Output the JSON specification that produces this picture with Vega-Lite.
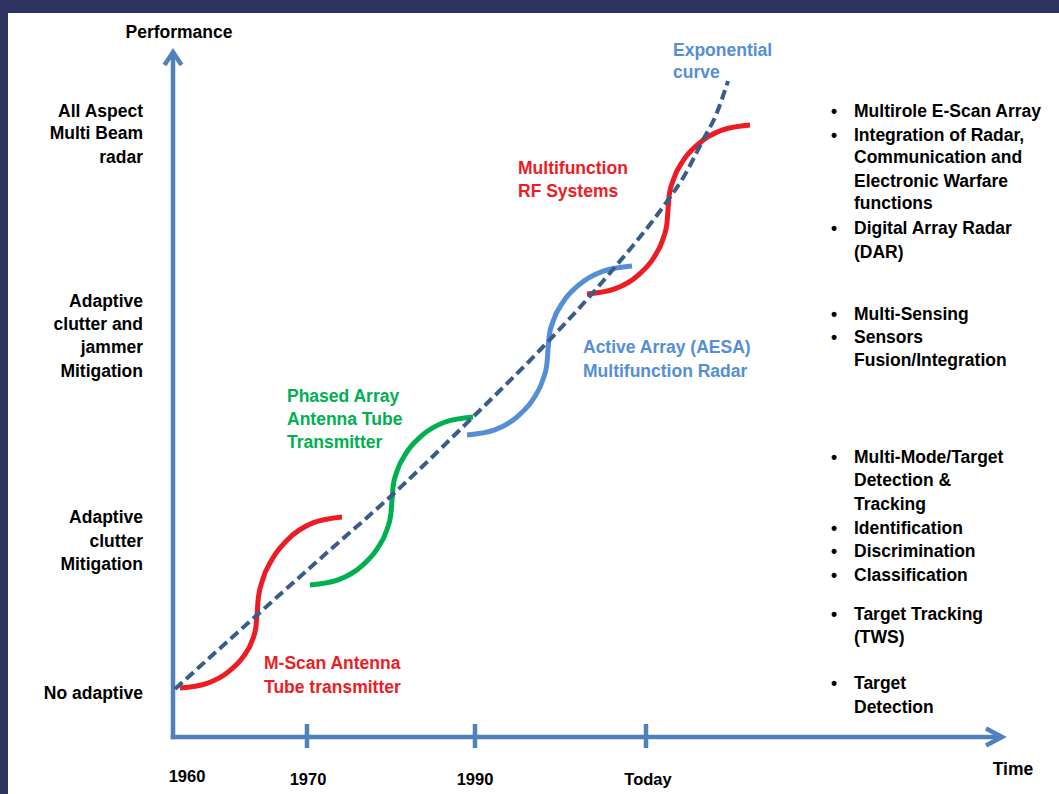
{
  "$schema": "https://vega.github.io/schema/vega-lite/v6.json",
  "width": 1059,
  "height": 794,
  "autosize": {"type": "fit", "contains": "padding"},
  "padding": {"left": 8, "top": 13, "right": 0, "bottom": 0},
  "background": "#2c3361",
  "config": {
    "view": {"fill": "#ffffff", "stroke": null},
    "text": {"font": "Liberation Sans", "fontWeight": "bold", "fontSize": 17.5}
  },
  "datasets": {
    "axes": [
      {"seg": "yaxis", "i": 0, "t": 0, "p": -2.25},
      {"seg": "yaxis", "i": 1, "t": 0, "p": 684},
      {"seg": "yarrow", "i": 0, "t": -8.5, "p": 672},
      {"seg": "yarrow", "i": 1, "t": 0, "p": 685},
      {"seg": "yarrow", "i": 2, "t": 8.5, "p": 672},
      {"seg": "xaxis", "i": 0, "t": -2.25, "p": 0},
      {"seg": "xaxis", "i": 1, "t": 828, "p": 0},
      {"seg": "xarrow", "i": 0, "t": 813, "p": 8.5},
      {"seg": "xarrow", "i": 1, "t": 829, "p": 0},
      {"seg": "xarrow", "i": 2, "t": 813, "p": -8.5},
      {"seg": "tick1970", "i": 0, "t": 134, "p": 13},
      {"seg": "tick1970", "i": 1, "t": 134, "p": -11},
      {"seg": "tick1990", "i": 0, "t": 302, "p": 13},
      {"seg": "tick1990", "i": 1, "t": 302, "p": -11},
      {"seg": "tickToday", "i": 0, "t": 473, "p": 13},
      {"seg": "tickToday", "i": 1, "t": 473, "p": -11}
    ],
    "curves": [
      {"series": "M-Scan", "t": 7, "p": 49},
      {"series": "M-Scan", "t": 33.3, "p": 53.4},
      {"series": "M-Scan", "t": 56.5, "p": 66.1},
      {"series": "M-Scan", "t": 70.1, "p": 80.1},
      {"series": "M-Scan", "t": 79.4, "p": 97},
      {"series": "M-Scan", "t": 82.8, "p": 109.3},
      {"series": "M-Scan", "t": 84, "p": 122},
      {"series": "M-Scan", "t": 85.3, "p": 139},
      {"series": "M-Scan", "t": 89.1, "p": 155.5},
      {"series": "M-Scan", "t": 99.4, "p": 178.2},
      {"series": "M-Scan", "t": 114.4, "p": 197.1},
      {"series": "M-Scan", "t": 139.9, "p": 214.1},
      {"series": "M-Scan", "t": 169, "p": 220},
      {"series": "Phased Array", "t": 137, "p": 152},
      {"series": "Phased Array", "t": 165, "p": 157.1},
      {"series": "Phased Array", "t": 189.7, "p": 171.9},
      {"series": "Phased Array", "t": 204.2, "p": 188.2},
      {"series": "Phased Array", "t": 214.1, "p": 207.9},
      {"series": "Phased Array", "t": 217.8, "p": 222.2},
      {"series": "Phased Array", "t": 219, "p": 237},
      {"series": "Phased Array", "t": 220.2, "p": 251.4},
      {"series": "Phased Array", "t": 223.9, "p": 265.4},
      {"series": "Phased Array", "t": 233.6, "p": 284.6},
      {"series": "Phased Array", "t": 247.9, "p": 300.6},
      {"series": "Phased Array", "t": 272.3, "p": 315},
      {"series": "Phased Array", "t": 300, "p": 320},
      {"series": "AESA", "t": 294, "p": 302},
      {"series": "AESA", "t": 321.7, "p": 307.1},
      {"series": "AESA", "t": 346.1, "p": 321.9},
      {"series": "AESA", "t": 360.4, "p": 338.2},
      {"series": "AESA", "t": 370.1, "p": 357.9},
      {"series": "AESA", "t": 373.8, "p": 372.2},
      {"series": "AESA", "t": 375, "p": 387},
      {"series": "AESA", "t": 376.3, "p": 401.6},
      {"series": "AESA", "t": 380.1, "p": 415.7},
      {"series": "AESA", "t": 390.2, "p": 435.2},
      {"series": "AESA", "t": 405, "p": 451.3},
      {"series": "AESA", "t": 430.3, "p": 465.9},
      {"series": "AESA", "t": 459, "p": 471},
      {"series": "Multifunction RF", "t": 414, "p": 443},
      {"series": "Multifunction RF", "t": 441.7, "p": 448.1},
      {"series": "Multifunction RF", "t": 466.1, "p": 462.7},
      {"series": "Multifunction RF", "t": 480.4, "p": 478.8},
      {"series": "Multifunction RF", "t": 490.1, "p": 498.3},
      {"series": "Multifunction RF", "t": 493.8, "p": 512.4},
      {"series": "Multifunction RF", "t": 495, "p": 527},
      {"series": "Multifunction RF", "t": 496.2, "p": 541.8},
      {"series": "Multifunction RF", "t": 499.9, "p": 556},
      {"series": "Multifunction RF", "t": 509.8, "p": 575.8},
      {"series": "Multifunction RF", "t": 524.3, "p": 592.1},
      {"series": "Multifunction RF", "t": 549, "p": 606.9},
      {"series": "Multifunction RF", "t": 577, "p": 612}
    ],
    "exponential": [
      {"t": 2, "p": 48},
      {"t": 84, "p": 122},
      {"t": 157, "p": 187},
      {"t": 217, "p": 240},
      {"t": 300, "p": 320},
      {"t": 367, "p": 387},
      {"t": 437, "p": 464},
      {"t": 495, "p": 537},
      {"t": 510, "p": 559},
      {"t": 530, "p": 597},
      {"t": 543, "p": 622},
      {"t": 555, "p": 656}
    ],
    "labelsLeft": [
      {"series": "M-Scan", "text": "M-Scan Antenna", "t": 91, "p": 68},
      {"series": "M-Scan", "text": "Tube transmitter", "t": 91, "p": 44},
      {"series": "Phased Array", "text": "Phased Array", "t": 114, "p": 335},
      {"series": "Phased Array", "text": "Antenna Tube", "t": 114, "p": 312},
      {"series": "Phased Array", "text": "Transmitter", "t": 114, "p": 289},
      {"series": "AESA", "text": "Active Array (AESA)", "t": 410, "p": 384},
      {"series": "AESA", "text": "Multifunction Radar", "t": 410, "p": 360},
      {"series": "Multifunction RF", "text": "Multifunction", "t": 345, "p": 563},
      {"series": "Multifunction RF", "text": "RF Systems", "t": 345, "p": 540},
      {"series": "Exponential", "text": "Exponential", "t": 500, "p": 681},
      {"series": "Exponential", "text": "curve", "t": 500, "p": 659},
      {"series": "Label", "text": "Multirole E-Scan Array", "t": 681, "p": 620},
      {"series": "Label", "text": "Integration of Radar,", "t": 681, "p": 596},
      {"series": "Label", "text": "Communication and", "t": 681, "p": 574},
      {"series": "Label", "text": "Electronic Warfare", "t": 681, "p": 550},
      {"series": "Label", "text": "functions", "t": 681, "p": 528},
      {"series": "Label", "text": "Digital Array Radar", "t": 681, "p": 503},
      {"series": "Label", "text": "(DAR)", "t": 681, "p": 479},
      {"series": "Label", "text": "Multi-Sensing", "t": 681, "p": 417},
      {"series": "Label", "text": "Sensors", "t": 681, "p": 394},
      {"series": "Label", "text": "Fusion/Integration", "t": 681, "p": 371},
      {"series": "Label", "text": "Multi-Mode/Target", "t": 681, "p": 274},
      {"series": "Label", "text": "Detection &", "t": 681, "p": 251},
      {"series": "Label", "text": "Tracking", "t": 681, "p": 227},
      {"series": "Label", "text": "Identification", "t": 681, "p": 203},
      {"series": "Label", "text": "Discrimination", "t": 681, "p": 180},
      {"series": "Label", "text": "Classification", "t": 681, "p": 156},
      {"series": "Label", "text": "Target Tracking", "t": 681, "p": 117},
      {"series": "Label", "text": "(TWS)", "t": 681, "p": 94},
      {"series": "Label", "text": "Target", "t": 681, "p": 48},
      {"series": "Label", "text": "Detection", "t": 681, "p": 24}
    ],
    "labelsRight": [
      {"series": "Label", "text": "All Aspect", "t": -30, "p": 620},
      {"series": "Label", "text": "Multi Beam", "t": -30, "p": 598},
      {"series": "Label", "text": "radar", "t": -30, "p": 574},
      {"series": "Label", "text": "Adaptive", "t": -30, "p": 430},
      {"series": "Label", "text": "clutter and", "t": -30, "p": 407},
      {"series": "Label", "text": "jammer", "t": -30, "p": 384},
      {"series": "Label", "text": "Mitigation", "t": -30, "p": 360},
      {"series": "Label", "text": "Adaptive", "t": -30, "p": 214},
      {"series": "Label", "text": "clutter", "t": -30, "p": 190},
      {"series": "Label", "text": "Mitigation", "t": -30, "p": 167},
      {"series": "Label", "text": "No adaptive", "t": -30, "p": 38}
    ],
    "labelsCenter": [
      {"series": "Label", "text": "Performance", "t": 6, "p": 699},
      {"series": "Label", "text": "Time", "t": 840, "p": -38},
      {"series": "Label", "text": "•", "t": 661, "p": 620},
      {"series": "Label", "text": "•", "t": 661, "p": 596},
      {"series": "Label", "text": "•", "t": 661, "p": 503},
      {"series": "Label", "text": "•", "t": 661, "p": 417},
      {"series": "Label", "text": "•", "t": 661, "p": 394},
      {"series": "Label", "text": "•", "t": 661, "p": 274},
      {"series": "Label", "text": "•", "t": 661, "p": 203},
      {"series": "Label", "text": "•", "t": 661, "p": 180},
      {"series": "Label", "text": "•", "t": 661, "p": 156},
      {"series": "Label", "text": "•", "t": 661, "p": 117},
      {"series": "Label", "text": "•", "t": 661, "p": 48}
    ],
    "years": [
      {"series": "Label", "text": "1960", "t": 14, "p": -45},
      {"series": "Label", "text": "1970", "t": 135, "p": -48},
      {"series": "Label", "text": "1990", "t": 302, "p": -48},
      {"series": "Label", "text": "Today", "t": 475, "p": -48}
    ]
  },
  "encoding": {
    "x": {"field": "t", "type": "quantitative", "axis": null, "scale": {"domain": [-165, 886], "nice": false, "zero": false}},
    "y": {"field": "p", "type": "quantitative", "axis": null, "scale": {"domain": [-57, 724], "nice": false, "zero": false}}
  },
  "layer": [
    {
      "data": {"name": "axes"},
      "mark": {"type": "line", "color": "#4f81bd", "strokeWidth": 4.5, "strokeCap": "butt", "strokeJoin": "miter"},
      "encoding": {"detail": {"field": "seg"}, "order": {"field": "i"}}
    },
    {
      "data": {"name": "curves"},
      "mark": {"type": "line", "strokeWidth": 5, "interpolate": "monotone", "strokeCap": "butt"},
      "encoding": {
        "detail": {"field": "series"},
        "color": {"field": "series", "type": "nominal", "legend": null,
          "scale": {"domain": ["M-Scan", "Phased Array", "AESA", "Multifunction RF", "Exponential", "Label"],
                    "range": ["#ed1c24", "#00b050", "#558ed5", "#ed1c24", "#558ed5", "#000000"]}}
      }
    },
    {
      "data": {"name": "exponential"},
      "mark": {"type": "line", "color": "#385d8a", "strokeWidth": 4, "strokeDash": [10, 5], "interpolate": "monotone"},
      "encoding": {}
    },
    {
      "data": {"name": "labelsLeft"},
      "mark": {"type": "text", "align": "left", "baseline": "alphabetic"},
      "encoding": {
        "text": {"field": "text"},
        "color": {"field": "series", "type": "nominal", "legend": null}
      }
    },
    {
      "data": {"name": "labelsRight"},
      "mark": {"type": "text", "align": "right", "baseline": "alphabetic"},
      "encoding": {
        "text": {"field": "text"},
        "color": {"field": "series", "type": "nominal", "legend": null}
      }
    },
    {
      "data": {"name": "labelsCenter"},
      "mark": {"type": "text", "align": "center", "baseline": "alphabetic"},
      "encoding": {
        "text": {"field": "text"},
        "color": {"field": "series", "type": "nominal", "legend": null}
      }
    },
    {
      "data": {"name": "years"},
      "mark": {"type": "text", "align": "center", "baseline": "alphabetic", "fontSize": 16.5},
      "encoding": {
        "text": {"field": "text"},
        "color": {"field": "series", "type": "nominal", "legend": null}
      }
    }
  ]
}
